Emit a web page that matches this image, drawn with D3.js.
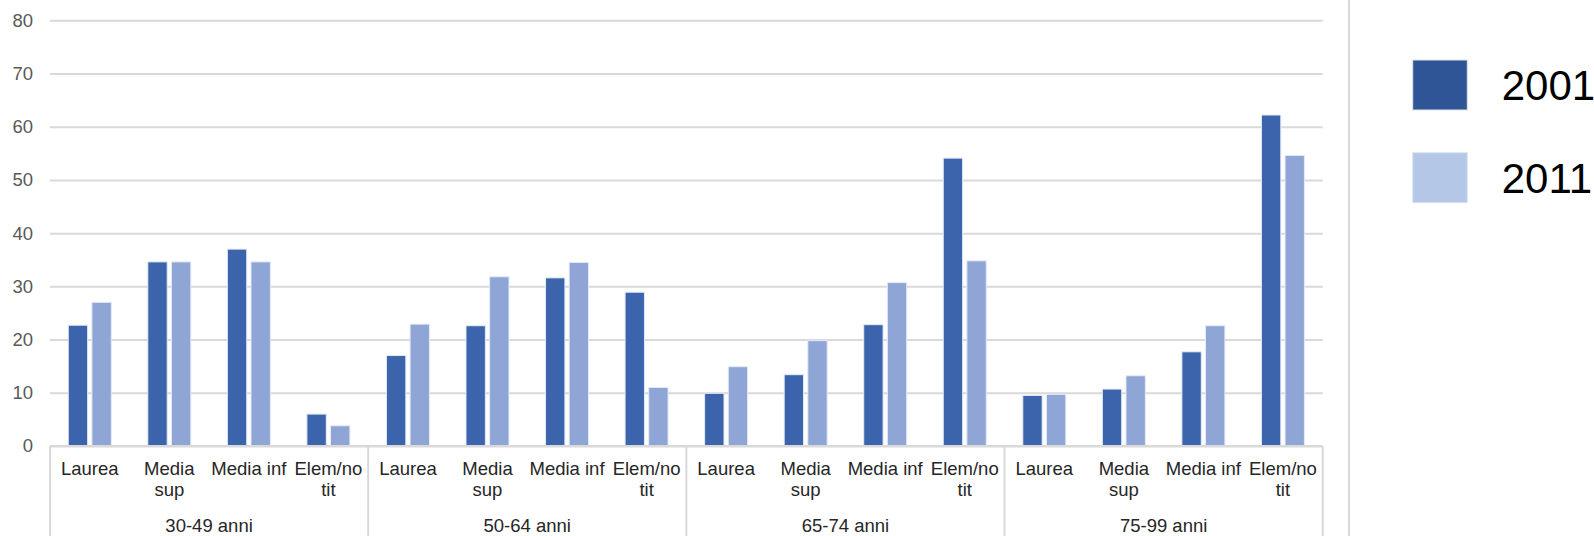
<!DOCTYPE html>
<html>
<head>
<meta charset="utf-8">
<script src="https://cdn.jsdelivr.net/npm/d3@7"></script>
<style>
  html, body { margin: 0; padding: 0; background: #fff; }
  svg { display: block; font-family: "Liberation Sans", Arial, sans-serif; }
</style>
</head>
<body>
<svg id="chart" width="1594" height="536"></svg>
<script>
const groups = ["30-49 anni", "50-64 anni", "65-74 anni", "75-99 anni"];
const levels = ["Laurea", "Media sup", "Media inf", "Elem/no tit"];
const levelLines = [["Laurea"], ["Media", "sup"], ["Media inf"], ["Elem/no", "tit"]];
const series = ["2001", "2011"];
const values2001 = [22.7, 34.6, 37.0, 6.0, 17.0, 22.6, 31.6, 28.9, 9.9, 13.4, 22.8, 54.1, 9.5, 10.7, 17.7, 62.2];
const values2011 = [27.0, 34.6, 34.6, 3.8, 22.9, 31.8, 34.5, 11.0, 14.9, 19.8, 30.7, 34.8, 9.7, 13.2, 22.6, 54.6];
const yTicks = [0, 10, 20, 30, 40, 50, 60, 70, 80];
const barColors = ["#3C64AD", "#8FA5D5"];
const legendColors = ["#2F5597", "#B4C7E7"];

(function draw() {
  const svg = d3.select("#chart");
  const pLeft = 50, pRight = 1322.7, pTop = 20.3, pBase = 446, H = 536;

  const keys = [];
  groups.forEach((g, gi) => levels.forEach((l, li) => keys.push({ key: gi + "|" + li, gi, li })));
  const rows = keys.map((k, i) => ({ ...k, vals: [values2001[i], values2011[i]] }));

  const x0 = d3.scaleBand().domain(keys.map(k => k.key)).range([pLeft, pRight]).padding(0);
  const xg = d3.scaleBand().domain(groups).range([pLeft, pRight]).padding(0);
  const bw = x0.bandwidth();
  const x1 = d3.scaleBand().domain(series).range([bw / 2 - 21.5, bw / 2 + 21.5]).paddingInner(0.18);
  const y = d3.scaleLinear().domain([0, 80]).range([pBase, pTop]);

  // gridlines + y labels
  const yAxis = d3.axisLeft(y).tickValues(yTicks).tickSize(-(pRight - pLeft)).tickPadding(17);
  const ga = svg.append("g").attr("transform", `translate(${pLeft},0)`).call(yAxis);
  ga.select(".domain").remove();
  ga.selectAll(".tick line").attr("stroke", "#D9D9D9").attr("stroke-width", 2);
  ga.selectAll(".tick text").attr("fill", "#595959").style("font-size", "18.5px")
    .style("font-family", "'Liberation Sans', Arial, sans-serif");

  // bars
  const cat = svg.append("g").selectAll("g").data(rows).join("g")
    .attr("transform", d => `translate(${x0(d.key)},0)`);
  cat.selectAll("rect").data(d => d.vals.map((v, i) => ({ v, s: series[i], i }))).join("rect")
    .attr("x", d => x1(d.s))
    .attr("width", x1.bandwidth())
    .attr("y", d => y(d.v))
    .attr("height", d => y(0) - y(d.v))
    .attr("fill", d => barColors[d.i])
    .attr("stroke", "#E4EAF6")
    .attr("stroke-width", 1);

  // category axis
  const ax = svg.append("g");
  ax.append("line").attr("x1", pLeft).attr("x2", pRight).attr("y1", pBase).attr("y2", pBase)
    .attr("stroke", "#D9D9D9").attr("stroke-width", 2);
  const bounds = groups.map(g => xg(g)).concat([pRight]);
  ax.selectAll("line.sep").data(bounds).join("line").attr("class", "sep")
    .attr("x1", d => d).attr("x2", d => d).attr("y1", pBase).attr("y2", H)
    .attr("stroke", "#D9D9D9").attr("stroke-width", 2);

  const lbl = ax.selectAll("text.cat").data(rows).join("text").attr("class", "cat")
    .attr("text-anchor", "middle").attr("fill", "#262626").style("font-size", "18.5px");
  lbl.each(function (d) {
    const t = d3.select(this);
    levelLines[d.li].forEach((line, j) => {
      t.append("tspan").attr("x", x0(d.key) + bw / 2).attr("y", 475 + j * 21).text(line);
    });
  });
  ax.selectAll("text.grp").data(groups).join("text").attr("class", "grp")
    .attr("x", d => xg(d) + xg.bandwidth() / 2).attr("y", 531.5)
    .attr("text-anchor", "middle").attr("fill", "#262626").style("font-size", "18.5px").text(d => d);

  // legend divider
  svg.append("line").attr("x1", 1349).attr("x2", 1349).attr("y1", 0).attr("y2", H)
    .attr("stroke", "#D9D9D9").attr("stroke-width", 2);

  // legend
  const lg = svg.append("g").selectAll("g").data(series).join("g")
    .attr("transform", (d, i) => `translate(1412.7,${60 + i * 92.7})`);
  lg.append("rect").attr("width", 54.6).attr("height", 50)
    .attr("fill", (d, i) => legendColors[i]).attr("stroke", "#DCE4F2").attr("stroke-width", 1);
  lg.append("text").attr("x", 89).attr("y", 40).attr("fill", "#000")
    .style("font-size", "42px").text(d => d);
})();
</script>
</body>
</html>
